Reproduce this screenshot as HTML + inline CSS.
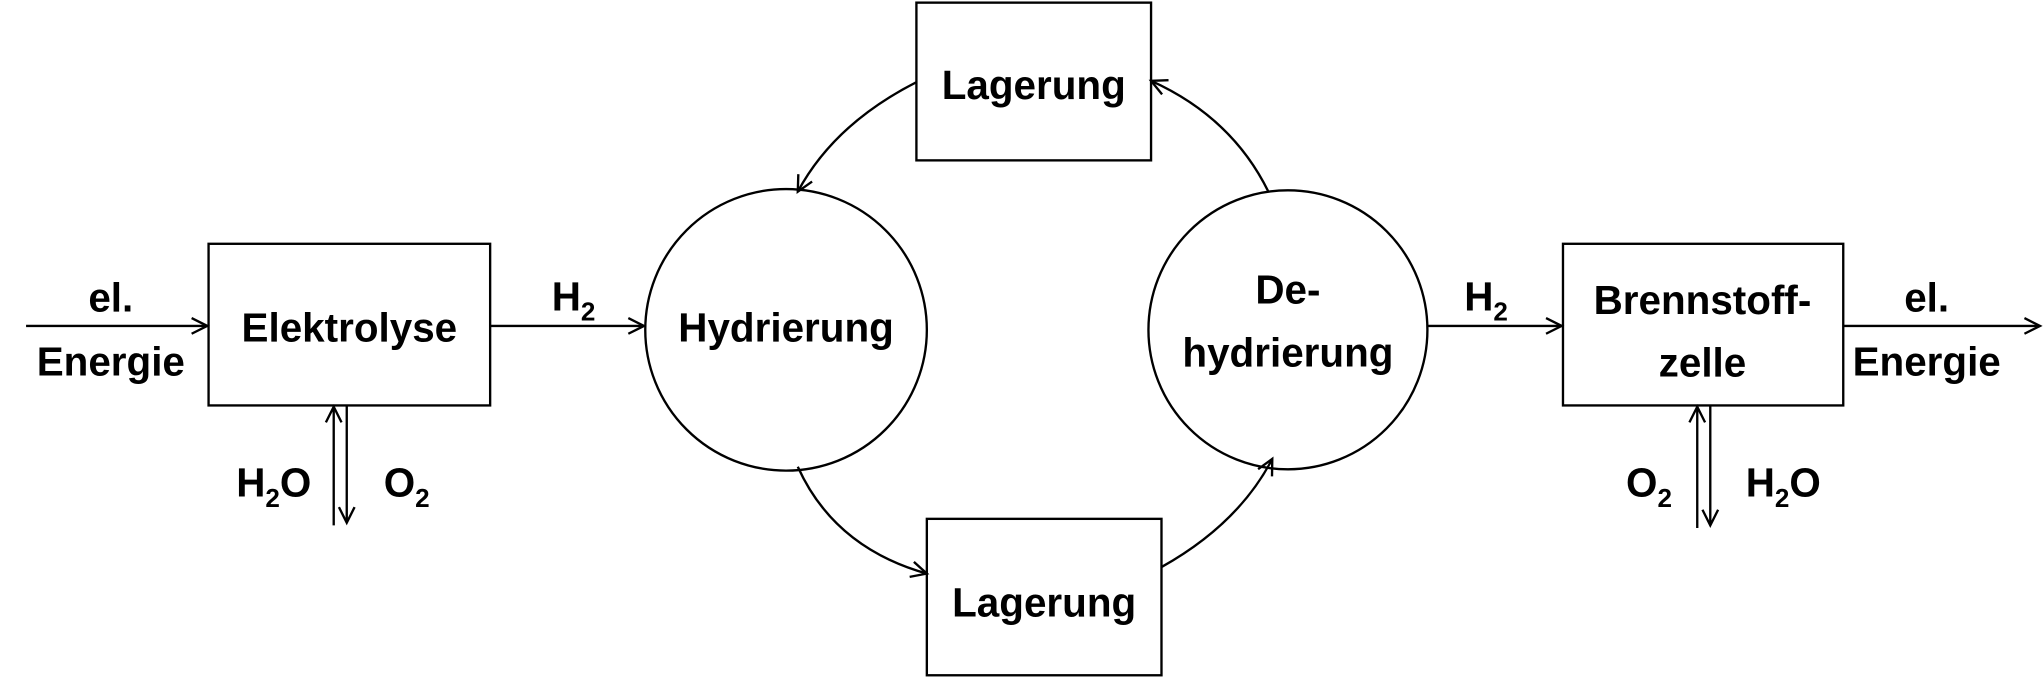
<!DOCTYPE html>
<html><head><meta charset="utf-8"><style>
html,body{margin:0;padding:0;background:#fff;}
svg{display:block;}
text{font-family:"Liberation Sans",sans-serif;font-weight:bold;font-size:31px;fill:#000;text-anchor:middle;}
.s{font-size:20px;}
</style></head><body>
<svg width="2044" height="680" viewBox="0 0 1568 521.6" xmlns="http://www.w3.org/2000/svg">
<defs>
<marker id="a" markerWidth="16" markerHeight="16" refX="14" refY="8" orient="auto" markerUnits="userSpaceOnUse">
<polyline points="2,2 14,8 2,14" fill="none" stroke="#000" stroke-width="1.8"/>
</marker>
</defs>
<g fill="none" stroke="#000" stroke-width="1.8">
<rect x="160" y="187" width="216" height="124"/>
<rect x="703" y="2" width="180" height="121"/>
<rect x="711" y="398" width="180" height="120"/>
<rect x="1199" y="187" width="215" height="124"/>
<circle cx="603" cy="253" r="108"/>
<circle cx="988" cy="253" r="107"/>
<line x1="20" y1="250" x2="159" y2="250" marker-end="url(#a)"/>
<line x1="376" y1="250" x2="494" y2="250" marker-end="url(#a)"/>
<line x1="1095" y1="250" x2="1198" y2="250" marker-end="url(#a)"/>
<line x1="1414" y1="250" x2="1565" y2="250" marker-end="url(#a)"/>
<line x1="256" y1="403" x2="256" y2="312" marker-end="url(#a)"/>
<line x1="266" y1="311" x2="266" y2="401" marker-end="url(#a)"/>
<line x1="1302" y1="405" x2="1302" y2="312" marker-end="url(#a)"/>
<line x1="1312" y1="311" x2="1312" y2="403" marker-end="url(#a)"/>
<path d="M703,63 Q640,95 612,147" marker-end="url(#a)"/>
<path d="M973,147 Q945,90 883,62" marker-end="url(#a)"/>
<path d="M612,358 Q640,420 711,440" marker-end="url(#a)"/>
<path d="M891,435 Q950,402 976,352" marker-end="url(#a)"/>
</g>
<text x="85" y="239">el.</text>
<text x="85" y="288">Energie</text>
<text x="268" y="262">Elektrolyse</text>
<text x="440" y="238">H<tspan class="s" dy="8">2</tspan></text>
<text x="603" y="262">Hydrierung</text>
<text x="793" y="76">Lagerung</text>
<text x="801" y="473">Lagerung</text>
<text x="988" y="233">De-</text>
<text x="988" y="281">hydrierung</text>
<text x="1140" y="238">H<tspan class="s" dy="8">2</tspan></text>
<text x="1306" y="241">Brennstoff-</text>
<text x="1306" y="289">zelle</text>
<text x="1478" y="239">el.</text>
<text x="1478" y="288">Energie</text>
<text x="210" y="381">H<tspan class="s" dy="8">2</tspan><tspan dy="-8">O</tspan></text>
<text x="312" y="381">O<tspan class="s" dy="8">2</tspan></text>
<text x="1265" y="381">O<tspan class="s" dy="8">2</tspan></text>
<text x="1368" y="381">H<tspan class="s" dy="8">2</tspan><tspan dy="-8">O</tspan></text>
</svg>
</body></html>
